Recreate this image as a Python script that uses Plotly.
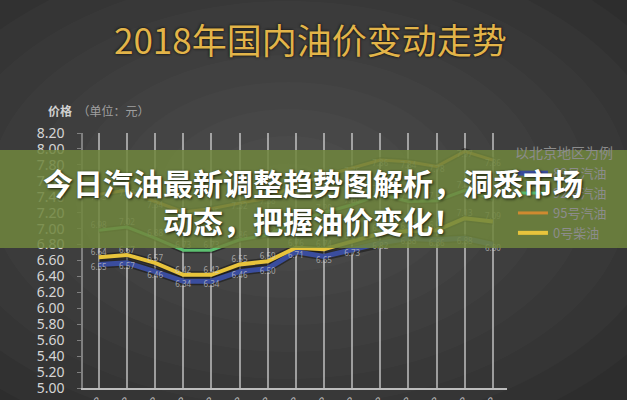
import plotly.graph_objects as go

# ---------------- data ----------------
dates = ["1/13/18", "1/27/18", "2/9/18", "3/13/18", "3/27/18", "4/12/18", "4/26/18",
         "5/11/18", "5/25/18", "6/8/18", "6/22/18", "7/9/18", "7/23/18", "8/17/18", "9/14/18"]
series_names = ["89号汽油", "92号汽油", "95号汽油", "0号柴油"]
gas89 = [6.55, 6.57, 6.46, 6.34, 6.34, 6.46, 6.50, 6.71, 6.65, 6.73, 6.82, 6.88, 6.86, 6.88, 6.80]
gas92 = [6.98, 7.02, 6.88, 6.73, 6.73, 6.86, 6.92, 7.10, 7.20, 7.30, 7.43, 7.34, 7.35, 7.48, 7.37]
gas95 = [7.43, 7.48, 7.34, 7.21, 7.25, 7.32, 7.38, 7.55, 7.66, 7.76, 7.86, 7.84, 7.78, 7.97, 7.86]
diesel0 = [6.64, 6.67, 6.57, 6.42, 6.42, 6.55, 6.59, 6.76, 6.74, 6.84, 6.94, 6.97, 6.98, 7.13, 7.09]
y_ticks = [round(5.0 + 0.2 * i, 2) for i in range(17)]

title_text = "2018年国内油价变动走势"
axis_title = "<b>价格</b>  <span style='color:#a0a0a0'>（单位：元）</span>"
legend_title = "以北京地区为例"
banner_line1 = "今日汽油最新调整趋势图解析，洞悉市场"
banner_line2 = "动态，把握油价变化！"

# ---------------- layout helpers (pixel -> paper) ----------------
W, H = 627, 400
L, R, T, B = 83, 117, 133, 12
PW, PH = W - L - R, H - T - B


def px(x):
    return (x - L) / PW


def py(y):
    return (H - B - y) / PH


CJK = "Noto Sans CJK SC"
LAT = "Noto Sans"

fig = go.Figure()

styles = [
    (gas89, series_names[0], "#3a4d9e", 5, "bottom center"),
    (gas92, series_names[1], "#5cc070", 3, "top center"),
    (gas95, series_names[2], "#cf8a30", 3, "bottom center"),
    (diesel0, series_names[3], "#e8c43c", 4, "top center"),
]

# dark under-strokes
for vals, name, color, w, tp in styles:
    fig.add_trace(go.Scatter(x=dates, y=vals, mode="lines", showlegend=False,
                             hoverinfo="skip",
                             line=dict(color="rgba(15,15,15,0.5)", width=w + 3)))

for vals, name, color, w, tp in styles:
    fig.add_trace(go.Scatter(
        x=dates, y=vals, name=name, mode="lines+text",
        text=[f"{v:.2f}" for v in vals], textposition=tp,
        textfont=dict(family=LAT, size=8, color="rgba(205,205,205,0.7)"),
        line=dict(color=color, width=w),
    ))

shapes = []
# soft vignette background
for i in range(10):
    r = 1 - i / 10
    cx, cy = 290, 190
    rx, ry = 430 * r, 270 * r
    shapes.append(dict(type="circle", xref="paper", yref="paper", layer="below",
                       x0=px(cx - rx), x1=px(cx + rx), y0=py(cy + ry), y1=py(cy - ry),
                       fillcolor="rgba(255,255,255,0.02)", line=dict(width=0)))
# banner
shapes.append(dict(type="rect", xref="paper", yref="paper", layer="above",
                   x0=px(-5), x1=px(W + 5), y0=py(248), y1=py(150),
                   fillcolor="rgba(112,134,62,0.86)", line=dict(width=0)))

annotations = [
    dict(text=title_text, xref="paper", yref="paper", x=px(312), y=py(38),
         showarrow=False, xanchor="center", yanchor="middle",
         font=dict(family=CJK, size=35, color="#e2b449", shadow="0px 0px 3px #000")),
    dict(text=axis_title, xref="paper", yref="paper", x=px(46), y=py(110),
         showarrow=False, xanchor="left", yanchor="middle",
         font=dict(family=CJK, size=12, color="#d0d0d0")),
    dict(text=banner_line1, xref="paper", yref="paper", x=px(315), y=py(182),
         showarrow=False, xanchor="center", yanchor="middle",
         font=dict(family=CJK, size=30, color="#ffffff", weight="bold",
                   shadow="1px 1px 3px rgba(0,0,0,0.8)")),
    dict(text=banner_line2, xref="paper", yref="paper", x=px(315), y=py(220),
         showarrow=False, xanchor="center", yanchor="middle",
         font=dict(family=CJK, size=30, color="#ffffff", weight="bold",
                   shadow="1px 1px 3px rgba(0,0,0,0.8)")),
]

fig.update_layout(
    width=W, height=H,
    margin=dict(l=L, r=R, t=T, b=B, pad=0),
    paper_bgcolor="#2d2d2d", plot_bgcolor="rgba(0,0,0,0)",
    template="none",
    showlegend=True,
    legend=dict(x=px(516), y=py(140), xanchor="left", yanchor="top",
                bgcolor="rgba(0,0,0,0)", font=dict(family=CJK, size=13, color="#8c8c8c"),
                title=dict(text=legend_title, font=dict(family=CJK, size=14, color="#8c8c8c")),
                tracegroupgap=0, itemwidth=30),
    xaxis=dict(type="category", range=[-0.56, 14.5], showgrid=True,
               gridcolor="rgba(225,225,225,0.6)", gridwidth=1.5,
               showline=True, linecolor="#bdbdbd", linewidth=2, ticks="",
               tickangle=-45, tickfont=dict(family=LAT, size=11, color="#bbbbbb"),
               automargin=False, zeroline=False),
    yaxis=dict(range=[5.0, 8.2], tickvals=y_ticks, tickformat=".2f", showgrid=False,
               showline=True, linecolor="#808080", linewidth=1.5, ticks="outside",
               ticklen=4, tickcolor="#808080", ticklabelstandoff=10,
               tickfont=dict(family=LAT, size=14, color="#d5d5d5"),
               automargin=False, zeroline=False),
    shapes=shapes,
    annotations=annotations,
)

fig.write_html("out.html", config={"displayModeBar": False},
               post_script="document.body.style.margin='0';document.body.style.overflow='hidden';")
